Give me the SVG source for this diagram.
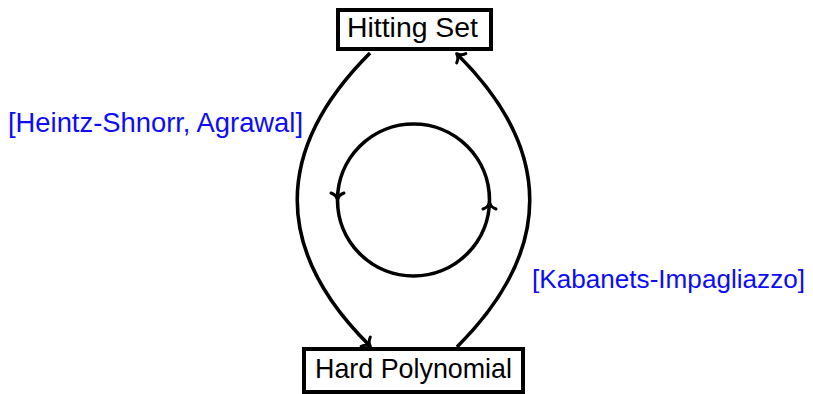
<svg xmlns="http://www.w3.org/2000/svg" width="813" height="394" viewBox="0 0 813 394">
  <style>
    .box { fill: #ffffff; stroke: #000000; stroke-width: 4; }
    .lbl { font-family: "Liberation Sans", "DejaVu Sans", sans-serif; font-size: 27.5px; fill: #000000; }
    .cite { font-family: "Liberation Sans", "DejaVu Sans", sans-serif; font-size: 27.5px; fill: #0c0cf8; }
    .edge { fill: none; stroke: #000000; stroke-width: 3.6; }
  </style>
  <defs>
    <marker id="to" markerUnits="userSpaceOnUse" viewBox="-9 -8 12 16" markerWidth="12" markerHeight="16" refX="0" refY="0" orient="auto" overflow="visible">
      <path d="M -6,-6.5 C -4.5,-2.5 -2,-0.6 0.5,0 C -2,0.6 -4.5,2.5 -6,6.5" fill="none" stroke="#000000" stroke-width="3" stroke-linecap="round" stroke-linejoin="round"/>
    </marker>
  </defs>

  <g id="connectors">
    <!-- Hitting Set to Hard Polynomial, bending left -->
    <path class="edge" d="M370,53 C273,150 273,250 370,346" marker-end="url(#to)"/>
    <!-- Hard Polynomial back to Hitting Set, bending right -->
    <path class="edge" d="M457,347 C554,250 554,150 457,54" marker-end="url(#to)"/>
    <!-- inner cycle -->
    <circle class="edge" cx="413.5" cy="200" r="76"/>
    <path class="edge" d="M337.5,194 L337.5,199" marker-end="url(#to)"/>
    <path class="edge" d="M489.5,208 L489.5,203" marker-end="url(#to)"/>
  </g>

  <g id="hitting-set">
    <rect class="box" x="338" y="10" width="153" height="39"/>
    <text class="lbl" x="347" y="37" textLength="131" lengthAdjust="spacingAndGlyphs">Hitting Set</text>
  </g>

  <g id="hard-polynomial">
    <rect class="box" x="304" y="349" width="219" height="43"/>
    <text class="lbl" x="315" y="378" textLength="197" lengthAdjust="spacingAndGlyphs">Hard Polynomial</text>
  </g>

  <g id="label-left">
    <text class="cite" x="8" y="132" textLength="295" lengthAdjust="spacingAndGlyphs">[Heintz-Shnorr, Agrawal]</text>
  </g>

  <g id="label-right">
    <text class="cite" x="532" y="288" style="font-size:26.5px" textLength="273" lengthAdjust="spacingAndGlyphs">[Kabanets-Impagliazzo]</text>
  </g>
</svg>
